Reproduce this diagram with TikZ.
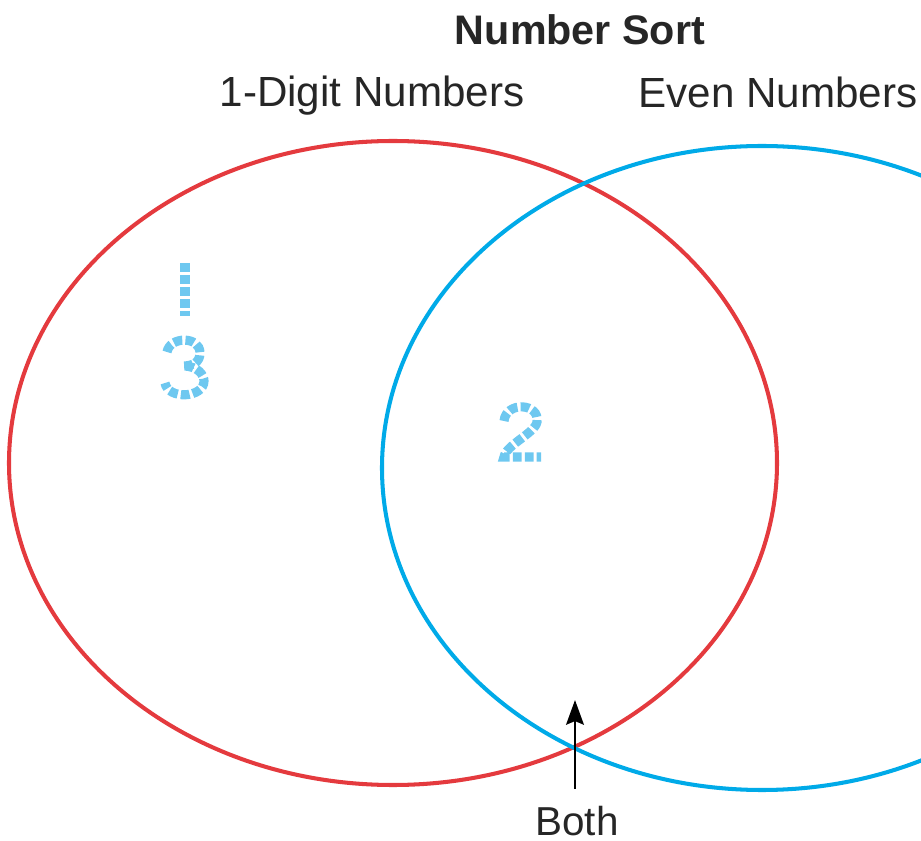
\documentclass[tikz,border=0pt]{standalone}
\usepackage{fontspec}
\setmainfont{Liberation Sans}
\usetikzlibrary{arrows.meta}
\definecolor{setred}{RGB}{228,58,62}
\definecolor{setblue}{RGB}{0,170,232}
\definecolor{traceblue}{RGB}{110,200,240}
\tikzset{
  setline/.style={line width=2.3pt},
  tracedigit/.style={traceblue, line width=5.2pt, dash pattern=on 5pt off 1.8pt},
  label/.style={anchor=base, font=\fontsize{24}{28}\selectfont, text=black!85}
}
\begin{document}
\begin{tikzpicture}[x=0.02cm, y=-0.02cm]
    \clip (0,0) rectangle (921,841);
    % Titles
    \node[label, font=\fontsize{23.5}{28}\selectfont\bfseries] (title) at (580,45) {Number Sort};
    \node[label] (onedigit) at (372,107) {1-Digit Numbers};
    \node[label] (even) at (778,108) {Even Numbers};
    % Two sets
    \draw[setline, setred] (393,463) ellipse [x radius=384, y radius=322];
    \draw[setline, setblue] (762,468) ellipse [x radius=380, y radius=322];
    % Dotted digits to trace
    \draw[tracedigit] (185,263) -- (185,316);
    \draw[tracedigit] (167,352) .. controls (170,336) and (200,336) .. (200,353)
        .. controls (200,362) and (193,366) .. (183,366)
        .. controls (198,366) and (204,375) .. (204,381)
        .. controls (204,398) and (168,400) .. (165,383);
    \draw[tracedigit] (504,421) .. controls (506,401) and (540,403) .. (537,422)
        .. controls (535,433) and (506,445) .. (504,457) -- (541,457);
    % Both
    \node[label, font=\fontsize{23}{28}\selectfont] (both) at (577,835) {Both};
    \coordinate (bothtip) at (575,700);
    \draw[line width=1.7pt, -{Stealth[length=14pt, width=10pt, inset=2pt]}, shorten <=6pt] (both.north -| bothtip) -- (bothtip);
\end{tikzpicture}
\end{document}
